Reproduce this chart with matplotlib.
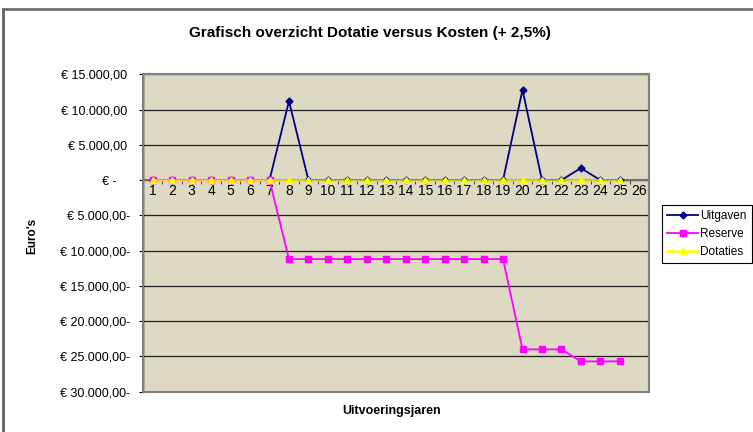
import matplotlib
matplotlib.use("Agg")
import matplotlib.pyplot as plt
import numpy as np
from matplotlib.patches import Rectangle
from matplotlib.lines import Line2D
from matplotlib.ticker import FuncFormatter, FixedLocator

plt.rcParams["font.family"] = ["Liberation Sans", "DejaVu Sans"]

jaren = list(range(1, 26))
uitgaven = [0, 0, 0, 0, 0, 0, 0, 11200, 0, 0, 0, 0, 0, 0, 0, 0, 0, 0, 0, 12800, 0, 0, 1700, 0, 0]
reserve = [0, 0, 0, 0, 0, 0, 0,
           -11200, -11200, -11200, -11200, -11200, -11200, -11200, -11200, -11200, -11200, -11200, -11200,
           -24000, -24000, -24000, -25700, -25700, -25700]
dotaties = [0] * 25
categorieen = list(range(1, 27))

fontsize = 9

fig = plt.figure(figsize = (7.53, 4.32), dpi = 100)
ax = fig.add_axes([143/753, 1 - 391.7/432, 506/753, (391.7 - 74.3)/432])
ax.set_facecolor("#DDD9C3")

ax.plot(jaren, uitgaven, color = "#000080", lw = 1.3, marker = "D", ms = 3.5, zorder = 3, label = "Uitgaven")
ax.plot(jaren, reserve, color = "#FF00FF", lw = 1.3, marker = "s", ms = 4.5, zorder = 4, label = "Reserve")
ax.plot(jaren, dotaties, color = (1, 1, 0, 0.75), lw = 1.8, marker = "^", ms = 5,
        markerfacecolor = "#FFFF00", markeredgecolor = "#FFFF00", zorder = 5, label = "Dotaties")

ax.set_xlim(0.5, 26.5)
ax.set_ylim(-30000, 15000)
ax.set_yticks(np.arange(-30000, 15001, 5000))

def euro(v, pos):
    if v == 0:
        return "€ -    "
    s = "{:,.2f}".format(abs(v)).replace(",", "X").replace(".", ",").replace("X", ".")
    return "€ " + s + ("-" if v < 0 else " ")

ax.yaxis.set_major_formatter(FuncFormatter(euro))
ax.tick_params(axis = "y", labelsize = fontsize, length = 3, direction = "out", color = "black", pad = 6)

ax.set_xticks(categorieen)
ax.set_xticklabels([str(c) for c in categorieen], fontsize = fontsize)
ax.xaxis.set_minor_locator(FixedLocator(np.arange(1.5, 26, 1)))
ax.tick_params(axis = "x", which = "major", length = 0, pad = 2.5)
ax.tick_params(axis = "x", which = "minor", length = 3, direction = "out", color = "#303030")

ax.grid(axis = "y", color = "#202020", lw = 0.9)
ax.set_axisbelow(True)

ax.spines["bottom"].set_position(("data", 0))
ax.spines["bottom"].set_color("#707070")
ax.spines["bottom"].set_linewidth(1.5)
ax.spines["left"].set_color("black")
ax.spines["left"].set_linewidth(1)
ax.spines["top"].set_color("#808080")
ax.spines["right"].set_color("#808080")
ax.spines["top"].set_linewidth(1.5)
ax.spines["right"].set_linewidth(1.5)
ax.add_patch(Rectangle((0, 0), 1, 1, transform = ax.transAxes, fill = False,
                       edgecolor = "#808080", lw = 1.5, zorder = 6, clip_on = False))

fig.text(370/753, 1 - 33/432, "Grafisch overzicht Dotatie versus Kosten (+ 2,5%)",
         ha = "center", va = "center", fontsize = 11, fontweight = "bold")
fig.text(32/753, 1 - 236/432, "Euro's", rotation = 90, ha = "center", va = "center",
         fontsize = 8.5, fontweight = "bold")
fig.text(392/753, 1 - 411/432, "Uitvoeringsjaren", ha = "center", va = "center",
         fontsize = fontsize, fontweight = "bold")

leg = fig.legend(loc = "upper left", bbox_to_anchor = (662/753, 1 - 205/432), fontsize = 8.5,
                 frameon = True, fancybox = False, edgecolor = "black", framealpha = 1,
                 handlelength = 2.6, handletextpad = 0.2, borderpad = 0.45, labelspacing = 0.5,
                 borderaxespad = 0)
leg.get_frame().set_linewidth(0.8)
for h in leg.legend_handles:
    h.set_alpha(1)
    h.set_color(h.get_markerfacecolor())

fig.add_artist(Line2D([3/753, 3/753], [1 - 9/432, 0], color = "#606060", lw = 2))
fig.add_artist(Line2D([3/753, 1], [1 - 9/432, 1 - 9/432], color = "#707070", lw = 2))

plt.savefig("out.png", dpi = 100)
